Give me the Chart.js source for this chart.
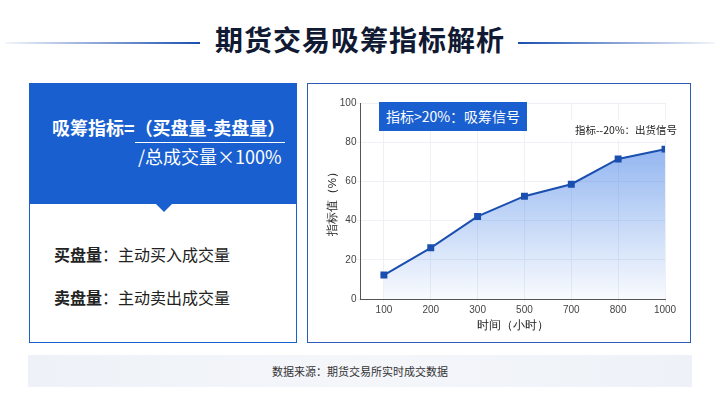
<!DOCTYPE html>
<html>
<head>
<meta charset="utf-8">
<script src="https://cdn.jsdelivr.net/npm/chart.js@4.4.1/dist/chart.umd.min.js"></script>
<style>
  body { margin:0; width:720px; height:404px; background:#fff; font-family:"Noto Sans CJK SC","Noto Sans",sans-serif; overflow:hidden; position:relative; }
  .title { position:absolute; left:0; top:19px; width:720px; text-align:center; font-size:28px; font-weight:700; color:#111a33; letter-spacing:1px; }
  .rule { position:absolute; top:42px; height:2px; }
  .rule.l { left:5px; width:195px; background:linear-gradient(90deg, rgba(26,79,176,0.05), #1a4fb0); }
  .rule.r { left:518px; width:197px; background:linear-gradient(90deg, #1a4fb0, rgba(26,79,176,0.05)); }
  .left { position:absolute; left:29px; top:83px; width:266px; height:258px; border:1px solid #1a5fd0; background:#fff; }
  .head { position:absolute; left:0; top:0; width:266px; height:120px; background:#1a5fd0; }
  .arrow { position:absolute; left:126px; top:120px; width:0; height:0; border-left:8px solid transparent; border-right:8px solid transparent; border-top:8px solid #1a5fd0; }
  .f1 { position:absolute; left:22px; top:30px; color:#fff; font-size:18px; font-weight:700; white-space:nowrap; }
  .f1 span { border-bottom:1.5px solid #fff; padding-bottom:2px; }
  .f2 { position:absolute; left:108px; top:59px; color:#fff; font-size:18px; white-space:nowrap; }
  .def { position:absolute; left:24px; font-size:16px; color:#222; white-space:nowrap; }
  .def b { font-weight:700; }
  .right { position:absolute; left:307px; top:83px; width:382px; height:258px; border:1.5px solid #2a5cb8; background:#fff; }
  .cw { position:absolute; left:0; top:0; width:382px; height:258px; }
  .tag1 { position:absolute; left:71px; top:18px; width:148px; height:29px; background:#1a5fd0; color:#fff; font-size:14px; line-height:29px; text-align:center; }
  .tag2 { position:absolute; left:262px; top:36px; width:112px; height:20px; background:rgba(255,255,255,0.95); color:#222; font-size:10.5px; line-height:20px; text-align:center; }
  .foot { position:absolute; left:28px; top:355px; width:664px; height:32px; background:linear-gradient(90deg,#eef2f8,#f4f6fa,#eef2f8); color:#333; font-size:11px; line-height:32px; text-align:center; }
</style>
</head>
<body>
<div class="rule l"></div>
<div class="title">期货交易吸筹指标解析</div>
<div class="rule r"></div>

<div class="left">
  <div class="head">
    <div class="f1">吸筹指标=<span>（买盘量-卖盘量）</span></div>
    <div class="f2">/总成交量×100%</div>
  </div>
  <div class="arrow"></div>
  <div class="def" style="top:158px"><b>买盘量</b>：主动买入成交量</div>
  <div class="def" style="top:201px"><b>卖盘量</b>：主动卖出成交量</div>
</div>

<div class="right">
  <div class="cw"><canvas id="chart"></canvas></div>
  <div class="tag1">指标&gt;20%：吸筹信号</div>
  <div class="tag2">指标--20%：出货信号</div>
</div>

<div class="foot">数据来源：期货交易所实时成交数据</div>

<script>
const hours = ['100', '200', '300', '500', '700', '800', '1000'];
const indexValues = [12.3, 26.2, 42.2, 52.5, 58.6, 71.5, 76.5];
const yTicks = [0, 20, 40, 60, 80, 100];

const points = indexValues.map((v, i) => ({ x: i, y: v }));

new Chart(document.getElementById('chart'), {
  type: 'line',
  data: {
    datasets: [{
      data: points,
      borderColor: '#1a4fb0',
      borderWidth: 2,
      pointStyle: 'rect',
      pointRadius: 3.5,
      pointBackgroundColor: '#1a4fb0',
      pointBorderColor: '#1a4fb0',
      tension: 0,
      fill: 'origin',
      backgroundColor(ctx) {
        const area = ctx.chart.chartArea;
        if (!area) return 'rgba(60,120,220,0.3)';
        const g = ctx.chart.ctx.createLinearGradient(0, area.top, 0, area.bottom);
        g.addColorStop(0, 'rgba(70,130,230,0.75)');
        g.addColorStop(1, 'rgba(70,130,230,0.03)');
        return g;
      }
    }]
  },
  options: {
    responsive: true,
    maintainAspectRatio: false,
    animation: false,
    layout: { padding: { left: 18, right: 25, top: 19, bottom: 9 } },
    plugins: { legend: { display: false }, tooltip: { enabled: false } },
    scales: {
      x: {
        type: 'linear',
        min: -0.5,
        max: hours.length - 1,
        afterBuildTicks(axis) {
          axis.ticks = hours.map((h, i) => ({ value: i }));
        },
        ticks: {
          color: '#444',
          font: { size: 10 },
          padding: 2,
          callback: (v) => hours[v] ?? ''
        },
        grid: { color: '#eef0f5', drawTicks: true, tickLength: 3 },
        border: { color: '#555', width: 1 },
        title: { display: true, text: '时间（小时）', color: '#222', font: { size: 11.5 }, padding: { top: 1, bottom: 0 } }
      },
      y: {
        min: 0,
        max: 100,
        afterBuildTicks(axis) {
          axis.ticks = yTicks.map(v => ({ value: v }));
        },
        ticks: { color: '#444', font: { size: 10 }, padding: 0 },
        grid: { color: '#eef0f5', tickLength: 4 },
        border: { color: '#555', width: 1 },
        title: { display: true, text: '指标值（%）', color: '#222', font: { size: 11.5 }, padding: 0 }
      }
    }
  }
});
</script>
</body>
</html>
